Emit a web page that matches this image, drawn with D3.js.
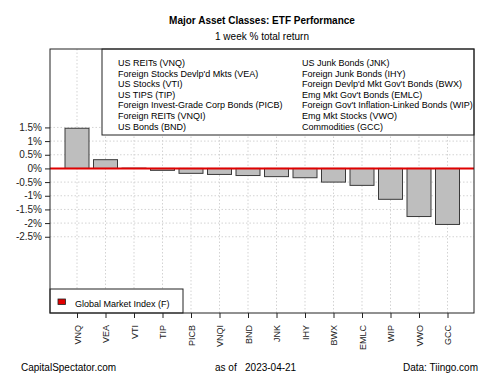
<!DOCTYPE html>
<html>
<head>
<meta charset="utf-8">
<script src="https://cdn.jsdelivr.net/npm/d3@7"></script>
<style>
  body { margin: 0; background: #fff; }
  svg { font-family: "Liberation Sans", Arial, sans-serif; }
</style>
</head>
<body>
<svg id="chart" width="500" height="375"></svg>
<script>
// tickers and 1 week % total return
const tickers = ["VNQ", "VEA", "VTI", "TIP", "PICB", "VNQI", "BND", "JNK", "IHY", "BWX", "EMLC", "WIP", "VWO", "GCC"];
const returns = [1.47, 0.32, 0.01, -0.07, -0.18, -0.22, -0.26, -0.30, -0.34, -0.50, -0.62, -1.13, -1.76, -2.05];
const yTicks = [-2.5, -2, -1.5, -1, -0.5, 0, 0.5, 1, 1.5];
const legendLeft = ["US REITs (VNQ)", "Foreign Stocks Devlp'd Mkts (VEA)", "US Stocks (VTI)", "US TIPS (TIP)",
  "Foreign Invest-Grade Corp Bonds (PICB)", "Foreign REITs (VNQI)", "US Bonds (BND)"];
const legendRight = ["US Junk Bonds (JNK)", "Foreign Junk Bonds (IHY)", "Foreign Devlp'd Mkt Gov't Bonds (BWX)",
  "Emg Mkt Gov't Bonds (EMLC)", "Foreign Gov't Inflation-Linked Bonds (WIP)", "Emg Mkt Stocks (VWO)", "Commodities (GCC)"];
const globalIndex = 0; // Global Market Index (F), drawn as the red line

const svg = d3.select("#chart");
const pLeft = 50, pRight = 474, pTop = 49, pBottom = 313;

let x = d3.scalePoint().domain(tickers).range([77, 447.5]);
let y = d3.scaleLinear().domain([-5.29, 4.37]).range([pBottom, pTop]);
const barW = 24;

// title
svg.append("text").attr("x", 262).attr("y", 23.5).attr("text-anchor", "middle")
  .style("font-size", "10px").style("font-weight", "bold").text("Major Asset Classes: ETF Performance");
svg.append("text").attr("x", 262).attr("y", 40).attr("text-anchor", "middle")
  .style("font-size", "10px").text("1 week % total return");

// grid
let grid = svg.append("g").attr("stroke", "#d3d3d3").attr("stroke-dasharray", "1.5,2").attr("stroke-width", 1);
yTicks.forEach(function(t){
  grid.append("line").attr("x1", pLeft).attr("x2", pRight).attr("y1", y(t)).attr("y2", y(t));
});
tickers.forEach(function(t){
  grid.append("line").attr("x1", x(t)).attr("x2", x(t)).attr("y1", pTop).attr("y2", pBottom);
});

// bars
svg.append("g").selectAll("rect").data(tickers).enter().append("rect")
  .attr("x", d => x(d) - barW / 2)
  .attr("width", barW)
  .attr("y", (d, i) => y(Math.max(0, returns[i])))
  .attr("height", (d, i) => Math.abs(y(returns[i]) - y(0)))
  .attr("fill", "#bebebe").attr("stroke", "#3a3a3a").attr("stroke-width", 1);

// zero / global index line
svg.append("line").attr("x1", pLeft).attr("x2", pRight)
  .attr("y1", y(globalIndex)).attr("y2", y(globalIndex))
  .attr("stroke", "#e00000").attr("stroke-width", 2);

// top legend
let lg = svg.append("g");
lg.append("rect").attr("x", 102).attr("y", pTop).attr("width", pRight - 102).attr("height", 86)
  .attr("fill", "#fff").attr("stroke", "#222");
legendLeft.forEach(function(s, i){
  lg.append("text").attr("x", 118).attr("y", 66 + i * 10.6).style("font-size", "9px").text(s);
});
legendRight.forEach(function(s, i){
  lg.append("text").attr("x", 302).attr("y", 66 + i * 10.6).style("font-size", "9px").text(s);
});

// bottom legend
let bl = svg.append("g");
bl.append("rect").attr("x", pLeft).attr("y", 289).attr("width", 133).attr("height", pBottom - 289)
  .attr("fill", "#fff").attr("stroke", "#222");
bl.append("rect").attr("x", 58).attr("y", 299).attr("width", 7.5).attr("height", 5.5)
  .attr("fill", "#e00000").attr("stroke", "#222").attr("stroke-width", 0.8);
bl.append("text").attr("x", 75).attr("y", 306.5).style("font-size", "9px").text("Global Market Index (F)");

// plot frame
svg.append("rect").attr("x", pLeft).attr("y", pTop).attr("width", pRight - pLeft).attr("height", pBottom - pTop)
  .attr("fill", "none").attr("stroke", "#222");

// y axis
let yAxis = svg.append("g").attr("transform", "translate(" + pLeft + ",0)")
  .call(d3.axisLeft(y).tickValues(yTicks).tickSize(5).tickPadding(3).tickFormat(d => d + "%"));
yAxis.select(".domain").remove();
yAxis.selectAll("text").style("font-size", "10px").attr("fill", "#222").style("font-family", "Liberation Sans, Arial, sans-serif");
yAxis.selectAll("line").attr("stroke", "#222");

// x axis
let xAxis = svg.append("g").attr("transform", "translate(0," + pBottom + ")")
  .call(d3.axisBottom(x).tickSize(5).tickSizeOuter(0));
xAxis.select(".domain").remove();
xAxis.selectAll("line").attr("stroke", "#222");
xAxis.selectAll("text")
  .attr("transform", "rotate(-90)")
  .attr("text-anchor", "end")
  .attr("x", -12).attr("y", 0).attr("dy", "0.35em")
  .style("font-size", "9px").attr("fill", "#222").style("font-family", "Liberation Sans, Arial, sans-serif");

// footer
svg.append("text").attr("x", 21).attr("y", 371).style("font-size", "10px").text("CapitalSpectator.com");
svg.append("text").attr("x", 215).attr("y", 371).style("font-size", "10px").attr("xml:space", "preserve").text("as of   2023-04-21");
svg.append("text").attr("x", 478).attr("y", 371).attr("text-anchor", "end").style("font-size", "10px").text("Data: Tiingo.com");
</script>
</body>
</html>
